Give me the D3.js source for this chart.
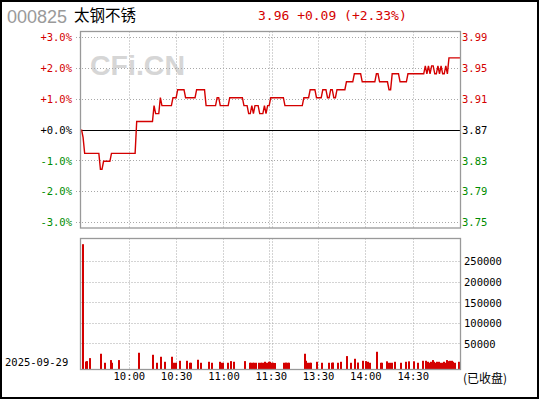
<!DOCTYPE html>
<html>
<head>
<meta charset="utf-8">
<script src="https://cdn.jsdelivr.net/npm/d3@7"></script>
<style>
  html, body { margin: 0; padding: 0; background: #fff; }
  svg { display: block; }
</style>
</head>
<body>
<script>
// ---------------- DATA ----------------
const stockCode = "000825";
const stockName = "太钢不锈";
const tradeDate = "2025-09-29";
const statusText = "(已收盘)";
const prevClose = 3.87;

// minute prices 09:30 .. 11:30 | 13:00 .. 15:00 (241 points, index = trading minute)
const prices = [
  3.87,3.86,3.84,3.84,3.84,3.84,3.84,3.84,3.84,3.84,
  3.84,3.84,3.82,3.82,3.83,3.83,3.83,3.83,3.83,3.84,
  3.84,3.84,3.84,3.84,3.84,3.84,3.84,3.84,3.84,3.84,
  3.84,3.84,3.84,3.84,3.84,3.88,3.88,3.88,3.88,3.88,
  3.88,3.88,3.88,3.88,3.88,3.88,3.90,3.89,3.89,3.89,
  3.91,3.90,3.90,3.90,3.90,3.90,3.90,3.90,3.91,3.91,
  3.91,3.92,3.92,3.92,3.92,3.92,3.91,3.91,3.91,3.91,
  3.91,3.91,3.91,3.92,3.92,3.92,3.92,3.92,3.92,3.90,
  3.90,3.90,3.90,3.90,3.90,3.90,3.91,3.91,3.90,3.90,
  3.90,3.90,3.90,3.90,3.91,3.91,3.91,3.91,3.91,3.91,
  3.91,3.91,3.91,3.90,3.90,3.90,3.89,3.89,3.90,3.89,
  3.90,3.90,3.90,3.89,3.89,3.89,3.90,3.89,3.90,3.90,
  3.91,3.91,3.91,3.91,3.91,3.91,3.91,3.91,3.91,3.90,
  3.90,3.90,3.90,3.90,3.90,3.90,3.90,3.90,3.90,3.90,
  3.90,3.91,3.91,3.91,3.91,3.92,3.92,3.92,3.92,3.91,
  3.91,3.91,3.91,3.92,3.92,3.92,3.91,3.91,3.92,3.92,
  3.91,3.91,3.92,3.92,3.92,3.92,3.92,3.92,3.93,3.93,
  3.93,3.93,3.93,3.94,3.94,3.94,3.94,3.94,3.93,3.93,
  3.93,3.93,3.93,3.93,3.93,3.93,3.93,3.94,3.94,3.93,
  3.93,3.93,3.93,3.93,3.93,3.92,3.92,3.94,3.94,3.94,
  3.94,3.94,3.93,3.93,3.93,3.93,3.93,3.94,3.94,3.94,
  3.94,3.94,3.94,3.94,3.94,3.94,3.94,3.94,3.95,3.94,
  3.95,3.94,3.95,3.95,3.94,3.94,3.95,3.94,3.95,3.94,
  3.94,3.95,3.94,3.96,3.96,3.96,3.96,3.96,3.96,3.96,
  3.96
];

// volume bars: trading minute and volume (lots)
const volMinutes = [0,2,3,5,12,14,18,19,23,36,45,47,50,52,57,58,59,62,66,68,69,73,75,80,82,87,88,89,92,94,96,103,
  106,107,108,109,110,112,113,114,115,116,117,118,119,120,121,122,
  128,129,130,131,141,142,143,144,145,149,152,156,158,159,162,164,168,170,173,175,178,180,181,182,
  187,189,190,193,194,195,196,198,202,205,207,210,213,216,218,
  219,220,221,222,223,224,225,226,227,228,229,230,231,232,233,234,235,236,239];
const volValues = [291000,6000,7000,14300,24900,3000,9500,3000,9500,27300,22400,3000,17600,5400,17600,3000,3000,7800,7800,3000,3000,10300,3000,5400,3000,5400,3000,3000,3000,7000,5400,7000,
  3000,3000,3000,3000,3000,3000,3000,3000,3000,5400,3000,5400,5400,3000,3000,2500,
  3000,3500,3000,3000,24900,7800,3000,3000,3000,5400,3000,3000,3000,3500,3000,5400,19200,3000,12700,3500,7800,7000,5400,3000,
  29700,3000,3000,6500,3000,3000,3000,5400,3000,5400,6500,6500,3000,7800,7800,
  5400,3000,5400,9500,5400,3000,5400,5400,3000,3000,5400,3000,9500,7000,7800,7800,5400,3000,5400];

const pctTicks = [3, 2, 1, 0, -1, -2, -3];
const volTicks = [50000, 100000, 150000, 200000, 250000];
const timeLabels = ["10:00", "10:30", "11:00", "11:30", "13:30", "14:00", "14:30"];
const timeLabelMinutes = [30, 60, 90, 120, 150, 180, 210];

// ---------------- LAYOUT ----------------
const W = 540, H = 400;
const plotL = 80.5, plotR = 460.5;
const priceTop = 31.5, priceBot = 228;
const volTop = 238.5, volBot = 369.5;
const red = "#d40000", green = "#008c00", grid = "#a8a8a8";
const monoFont = "'DejaVu Sans Mono', 'Liberation Mono', monospace";

const svg = d3.select("body").append("svg").attr("width", W).attr("height", H);
svg.append("rect").attr("x", 0).attr("y", 0).attr("width", W).attr("height", H).attr("fill", "#fff");
svg.append("rect").attr("x", 1).attr("y", 1).attr("width", 537).attr("height", 397)
  .attr("fill", "none").attr("stroke", "#000").attr("stroke-width", 2);

const x = d3.scaleLinear().domain([0, 240]).range([81.5, 460]);
const y = d3.scaleLinear().domain([-3.2, 3.2]).range([priceBot, priceTop - 0.5]);
const yv = d3.scaleLinear().domain([0, 300000]).range([364, 240.5]);
const pct = p => (p - prevClose) / prevClose * 100;

// ---------------- HEADER ----------------
svg.append("text").attr("x", 7).attr("y", 23).text(stockCode)
  .attr("font-family", "'Liberation Sans', Arial, sans-serif").attr("font-size", 18)
  .attr("fill", "#9a9a9a");
svg.append("text").attr("x", 74).attr("y", 21).text(stockName)
  .attr("font-family", "'Noto Sans CJK SC', sans-serif").attr("font-size", 15.5)
  .attr("fill", "#000");
const last = prices[prices.length - 1];
const chg = last - prevClose;
const chgPct = chg / prevClose * 100;
svg.append("text").attr("x", 258).attr("y", 20)
  .text(`${last.toFixed(2)} +${chg.toFixed(2)} (+${chgPct.toFixed(2)}%)`)
  .attr("font-family", monoFont).attr("font-size", 13).attr("fill", red);

// ---------------- WATERMARK ----------------
svg.append("text").attr("x", 90).attr("y", 75).text("CFi.CN")
  .attr("font-family", "'Liberation Sans', Arial, sans-serif").attr("font-weight", "bold")
  .attr("font-size", 28.5).attr("fill", "#d6d6d6");

// ---------------- PRICE GRID ----------------
const gPrice = svg.append("g");
pctTicks.filter(t => t !== 0).forEach(t => {
  gPrice.append("line").attr("x1", 76).attr("x2", plotR)
    .attr("y1", Math.round(y(t)) + 0.5).attr("y2", Math.round(y(t)) + 0.5)
    .attr("stroke", grid).attr("stroke-dasharray", "1,2");
});
const vGrid = [];
timeLabelMinutes.forEach(m => {
  if (m === 120) { vGrid.push(Math.round(x(m)) - 1.5, Math.round(x(m)) + 1.5); }
  else vGrid.push(Math.round(x(m)) + 0.5);
});
vGrid.forEach(px => {
  gPrice.append("line").attr("x1", px).attr("x2", px).attr("y1", priceTop).attr("y2", priceBot)
    .attr("stroke", grid).attr("stroke-dasharray", "1,2");
});

// axis labels left/right
const fmtPct = t => (t >= 0 ? "+" : "-") + Math.abs(t).toFixed(1) + "%";
const tickColor = t => t > 0 ? red : (t < 0 ? green : "#000");
const leftAxis = d3.axisLeft(y).tickValues(pctTicks).tickSize(0).tickPadding(0).tickFormat(fmtPct);
const gl = svg.append("g").attr("transform", "translate(72,0)").call(leftAxis);
gl.select(".domain").remove();
gl.selectAll("text").attr("font-family", monoFont).attr("font-size", 10.5)
  .attr("fill", t => tickColor(t)).attr("dy", "0.36em");

const rightAxis = d3.axisRight(y).tickValues(pctTicks).tickSize(0).tickPadding(0)
  .tickFormat(t => (prevClose * (1 + t / 100)).toFixed(2));
const gr = svg.append("g").attr("transform", "translate(462,0)").call(rightAxis);
gr.select(".domain").remove();
gr.selectAll("text").attr("font-family", monoFont).attr("font-size", 10.5)
  .attr("fill", t => tickColor(t)).attr("dy", "0.36em");

// zero line
gPrice.append("line").attr("x1", plotL).attr("x2", plotR)
  .attr("y1", Math.round(y(0)) + 0.5).attr("y2", Math.round(y(0)) + 0.5)
  .attr("stroke", "#000").attr("stroke-width", 1.2);

// price line
const line = d3.line().x((d, i) => x(i)).y(d => y(pct(d)));
svg.append("path").datum(prices).attr("d", line)
  .attr("fill", "none").attr("stroke", red).attr("stroke-width", 1.4);

// price frame
svg.append("rect").attr("x", plotL).attr("y", priceTop).attr("width", plotR - plotL).attr("height", priceBot - priceTop)
  .attr("fill", "none").attr("stroke", "#999").attr("stroke-width", 1.3);

// ---------------- VOLUME ----------------
const gVol = svg.append("g");
volTicks.forEach(t => {
  gVol.append("line").attr("x1", plotL).attr("x2", plotR)
    .attr("y1", Math.round(yv(t)) + 0.5).attr("y2", Math.round(yv(t)) + 0.5)
    .attr("stroke", grid).attr("stroke-dasharray", "1,2");
});
vGrid.forEach(px => {
  gVol.append("line").attr("x1", px).attr("x2", px).attr("y1", volTop).attr("y2", volBot)
    .attr("stroke", grid).attr("stroke-dasharray", "1,2");
});
const volData = volMinutes.map((m, i) => ({ m, v: volValues[i] }));
gVol.selectAll("rect.bar").data(volData).enter().append("rect").attr("class", "bar")
  .attr("x", d => Math.round(x(d.m)))
  .attr("width", 2)
  .attr("y", d => yv(d.v))
  .attr("height", d => volBot - yv(d.v))
  .attr("fill", red);

svg.append("rect").attr("x", plotL).attr("y", volTop).attr("width", plotR - plotL).attr("height", volBot - volTop)
  .attr("fill", "none").attr("stroke", "#999").attr("stroke-width", 1.3);

const volAxis = d3.axisRight(yv).tickValues(volTicks).tickSize(0).tickPadding(0).tickFormat(d3.format("d"));
const gva = svg.append("g").attr("transform", "translate(464,0)").call(volAxis);
gva.select(".domain").remove();
gva.selectAll("text").attr("font-family", monoFont).attr("font-size", 10.5)
  .attr("fill", "#000").attr("dy", "0.36em");

// time axis
const timeAxis = d3.axisBottom(x).tickValues(timeLabelMinutes).tickSize(0).tickPadding(0)
  .tickFormat((d, i) => timeLabels[i]);
const gt = svg.append("g").attr("transform", "translate(0,373)").call(timeAxis);
gt.select(".domain").remove();
gt.selectAll("text").attr("font-family", monoFont).attr("font-size", 10.5)
  .attr("fill", "#000").attr("dy", "0.71em");

svg.append("text").attr("x", 5).attr("y", 366).text(tradeDate)
  .attr("font-family", monoFont).attr("font-size", 10.5).attr("fill", "#000");
svg.append("text").attr("x", 463).attr("y", 383).text(statusText)
  .attr("font-family", "'Noto Sans CJK SC', sans-serif").attr("font-size", 12).attr("fill", "#000");
</script>
</body>
</html>
